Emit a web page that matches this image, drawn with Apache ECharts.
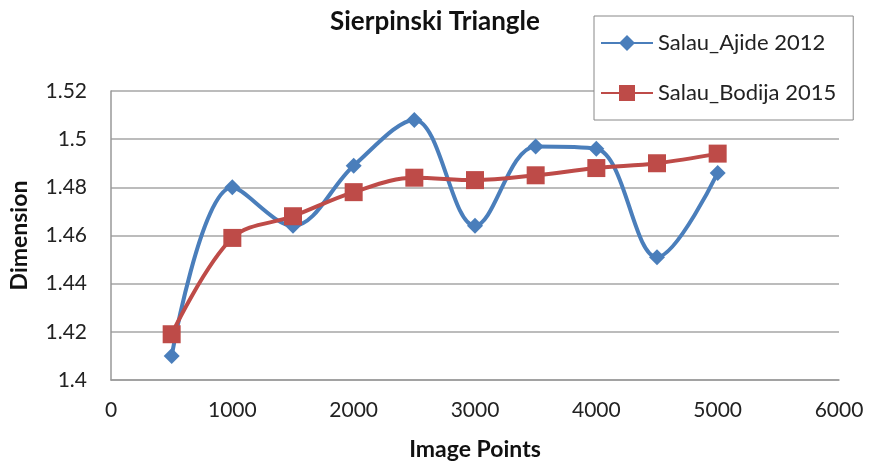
<!DOCTYPE html>
<html><head><meta charset="utf-8">
<script src="https://cdn.jsdelivr.net/npm/echarts@6/dist/echarts.min.js"></script>
<style>html,body{margin:0;padding:0;background:#fff}#c{width:869px;height:463px}</style>
</head><body><div id="c"></div>
<script>
const imagePoints = [500,1000,1500,2000,2500,3000,3500,4000,4500,5000];
const ajide2012 = [1.410,1.480,1.464,1.489,1.508,1.464,1.497,1.496,1.451,1.486];
const bodija2015 = [1.419,1.459,1.468,1.478,1.484,1.483,1.485,1.488,1.490,1.494];
const seriesNames = ['Salau_Ajide 2012','Salau_Bodija 2015'];
const FONT = 'Lato, "Open Sans", sans-serif';
const chart = echarts.init(document.getElementById('c'));
chart.setOption({
  animation:false,
  textStyle:{fontFamily:FONT},
  title:{text:'Sierpinski Triangle',left:430,top:4,textAlign:'center',
    textStyle:{fontFamily:FONT,fontSize:26,fontWeight:'bold',color:'#111'}},
  legend:{orient:'vertical',left:594,top:16,
    padding:[16,17,16,6],itemGap:28,itemWidth:52,itemHeight:20,
    backgroundColor:'#fff',borderColor:'#888',borderWidth:1,
    textStyle:{fontFamily:FONT,fontSize:22,color:'#222'},
    data:seriesNames},
  grid:{left:111,right:30,top:91,bottom:83,containLabel:false,outerBoundsMode:'none'},
  xAxis:{type:'value',min:0,max:6000,interval:1000,
    name:'Image Points',nameLocation:'middle',nameGap:58,
    nameTextStyle:{fontFamily:FONT,fontSize:23,fontWeight:'bold',color:'#111'},
    axisLine:{show:true,lineStyle:{color:'#999',width:1.5}},
    axisTick:{show:false},splitLine:{show:false},
    axisLabel:{fontFamily:FONT,fontSize:21,color:'#222',margin:20,
      formatter:v=>String(v)}},
  yAxis:{type:'value',min:1.4,max:1.52,interval:0.02,
    name:'Dimension',nameLocation:'middle',nameGap:80,nameRotate:90,
    nameTextStyle:{fontFamily:FONT,fontSize:23,fontWeight:'bold',color:'#111'},
    axisLine:{show:true,lineStyle:{color:'#999',width:1.5}},
    axisTick:{show:false},
    splitLine:{show:true,lineStyle:{color:'#a6a6a6',width:1.5}},
    axisLabel:{fontFamily:FONT,fontSize:21,color:'#222',margin:24,
      formatter:v=>String(parseFloat(v.toFixed(2)))}},
  series:[
    {name:seriesNames[0],type:'line',smooth:0.35,symbol:'diamond',symbolSize:16,
     data:imagePoints.map((x,i)=>[x,ajide2012[i]]),
     lineStyle:{color:'#4a7ebb',width:4},itemStyle:{color:'#4a7ebb'},z:2},
    {name:seriesNames[1],type:'line',smooth:0.35,symbol:'rect',symbolSize:18,
     data:imagePoints.map((x,i)=>[x,bodija2015[i]]),
     lineStyle:{color:'#be4b48',width:4},itemStyle:{color:'#be4b48'},z:3}
  ]
});
</script></body></html>
